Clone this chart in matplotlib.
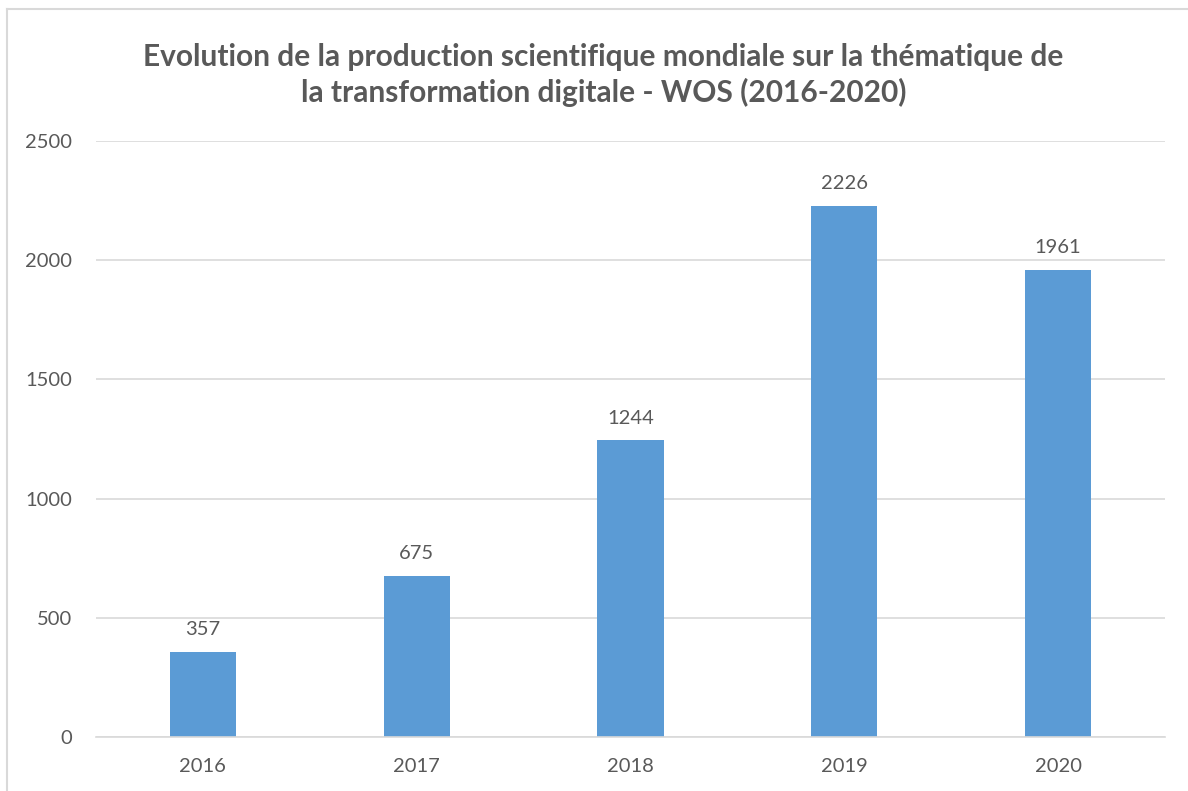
import numpy as np
import matplotlib.pyplot as plt
from matplotlib.lines import Line2D

# donnees WOS
years = ['2016', '2017', '2018', '2019', '2020']
counts = [357, 675, 1244, 2226, 1961]
yticks = [0, 500, 1000, 1500, 2000, 2500]

title = ("Evolution de la production scientifique mondiale sur la thématique de\n"
         "la transformation digitale - WOS (2016-2020)")

plt.rcParams['font.family'] = ['Lato', 'DejaVu Sans']
grey = '#595959'

fig = plt.figure(figsize=(11.88, 7.91), dpi=100)
ax = fig.add_axes([0.0808, 0.0683, 0.8998, 0.7534])

x = np.arange(len(years))
bars = ax.bar(x, counts, width=0.31, color='#5B9BD5', zorder=3)

#data labels above each bar
for xi, v in zip(x, counts):
	ax.annotate(str(v), (xi, v), xytext=(0, 10), textcoords='offset points',
		ha='center', va='bottom', fontsize=14.5, color=grey)

ax.set_xlim(-0.5, len(years) - 0.5)
ax.set_ylim(0, 2500)
ax.set_yticks(yticks)
ax.set_xticks(x)
ax.set_xticklabels(years)
ax.tick_params(axis='both', length=0, labelsize=14.5, labelcolor=grey)
ax.tick_params(axis='y', pad=17)
ax.tick_params(axis='x', pad=15)
ax.yaxis.grid(True, color='#D9D9D9', linewidth=1.2, zorder=0)
for s in ['top', 'right', 'left']:
	ax.spines[s].set_visible(False)
ax.spines['bottom'].set_color('#D9D9D9')
ax.spines['bottom'].set_linewidth(1.2)
ax.spines['bottom'].set_zorder(4)

fig.text(0.508, 0.905, title, ha='center', va='center', fontsize=21.5,
	fontweight='bold', color=grey, linespacing=1.3)

# chart frame (only top and left visible)
fig.add_artist(Line2D([0.0063, 1.0], [0.9886, 0.9886], color='#D9D9D9', linewidth=1.5))
fig.add_artist(Line2D([0.0063, 0.0063], [0.0, 0.9886], color='#D9D9D9', linewidth=1.5))

plt.savefig('out.png', dpi=100)
plt.close()
